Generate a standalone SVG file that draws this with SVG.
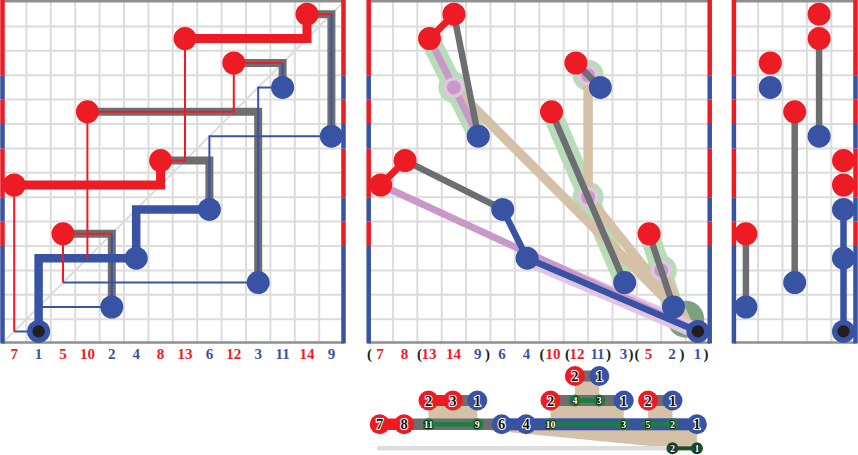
<svg xmlns="http://www.w3.org/2000/svg" width="858" height="455" viewBox="0 0 858 455">
<style>
.grid{stroke:#dcdcdc;stroke-width:2;fill:none}
.frame{stroke:#8f8f8f;stroke-width:2.5;fill:none}
.rb{stroke:#ed1c24;stroke-width:4.5;fill:none}
.bb{stroke:#3953a4;stroke-width:4.5;fill:none}
.gT{stroke:#6d6e71;stroke-width:8;fill:none}
.rT{stroke:#ed1c24;stroke-width:9;fill:none}
.bT{stroke:#3953a4;stroke-width:8.5;fill:none}
.rt{stroke:#ed1c24;stroke-width:2;fill:none}
.bt{stroke:#3953a4;stroke-width:2;fill:none}
.gm{stroke:#6d6e71;stroke-width:6.5;fill:none}
.rm{stroke:#ed1c24;stroke-width:7;fill:none}
.bm{stroke:#3953a4;stroke-width:6.5;fill:none}
.pk{stroke:#c899c8;stroke-width:7;fill:none;stroke-linecap:round}
.lpk{stroke:#e2c5e2;stroke-width:16;fill:none;stroke-linecap:round}
.hal{stroke:#b7dcb7;stroke-width:20;fill:none;stroke-linecap:round}
.tan{stroke:#d5c1a7;stroke-width:9.5;fill:none;stroke-linecap:round}
.r{fill:#ed1c24}
.b{fill:#3953a4}
.dot{fill:#231f20}
.pn1{fill:#e2c5e2}
.pn2{fill:#c899c8}
.hc{fill:#b7dcb7}
.lab{font-family:"Liberation Serif","Times New Roman",serif;font-weight:bold;font-size:15px;text-anchor:middle}
.lr{fill:#ed1c24}
.lb{fill:#3953a4}
.lp{fill:#231f20}
.tb{fill:#d5c1a7}
.gbar{fill:#6d6e71}
.rbar{fill:#ed1c24}
.bbar{fill:#3953a4}
.gl{stroke:#1a7f3c;stroke-width:4.5;fill:none}
.sg{fill:#1a7f3c}
.dg{fill:#1b4d2b}
.tn{font-family:"Liberation Serif","Times New Roman",serif;font-weight:bold;font-size:14.5px;text-anchor:middle;fill:#111;stroke:#fff;stroke-width:2;paint-order:stroke}
.ts{font-family:"Liberation Serif","Times New Roman",serif;font-weight:bold;font-size:10px;text-anchor:middle;fill:#fff;stroke:#111;stroke-width:1.6;paint-order:stroke}
</style>

<!-- grids -->
<g id="grids">
<path class="grid" d="M26.4,2V343.6M50.8,2V343.6M75.2,2V343.6M99.6,2V343.6M124,2V343.6M148.4,2V343.6M172.8,2V343.6M197.2,2V343.6M221.6,2V343.6M246,2V343.6M270.4,2V343.6M294.8,2V343.6M319.2,2V343.6
M2,26.4H343.6M2,50.8H343.6M2,75.2H343.6M2,99.6H343.6M2,124H343.6M2,148.4H343.6M2,172.8H343.6M2,197.2H343.6M2,221.6H343.6M2,246H343.6M2,270.4H343.6M2,294.8H343.6M2,319.2H343.6
M2,343.6L343.6,2"/>
<path class="grid" d="M392.9,2V343.6M417.3,2V343.6M441.7,2V343.6M466.1,2V343.6M490.5,2V343.6M514.9,2V343.6M539.3,2V343.6M563.7,2V343.6M588.1,2V343.6M612.5,2V343.6M636.9,2V343.6M661.3,2V343.6M685.7,2V343.6
M368.5,26.4H710.1M368.5,50.8H710.1M368.5,75.2H710.1M368.5,99.6H710.1M368.5,124H710.1M368.5,148.4H710.1M368.5,172.8H710.1M368.5,197.2H710.1M368.5,221.6H710.1M368.5,246H710.1M368.5,270.4H710.1M368.5,294.8H710.1M368.5,319.2H710.1"/>
<path class="grid" d="M758.1,2V343.6M782.5,2V343.6M806.9,2V343.6M831.3,2V343.6
M733.7,26.4H855.7M733.7,50.8H855.7M733.7,75.2H855.7M733.7,99.6H855.7M733.7,124H855.7M733.7,148.4H855.7M733.7,172.8H855.7M733.7,197.2H855.7M733.7,221.6H855.7M733.7,246H855.7M733.7,270.4H855.7M733.7,294.8H855.7M733.7,319.2H855.7"/>
<path class="frame" d="M2,1.3H343.6M2,342.4H343.6M368.5,1.3H710.1M368.5,342.4H710.1M733.7,1.3H855.7M733.7,342.4H855.7"/>
<path class="rb" d="M2.5,0V75.2M2.5,99.6V124M2.5,148.4V197.2M2.5,221.6V246M343.5,0V75.2M343.5,99.6V124M343.5,148.4V197.2M343.5,221.6V246M368.7,0V75.2M368.7,99.6V124M368.7,148.4V197.2M368.7,221.6V246M709.7,0V75.2M709.7,99.6V124M709.7,148.4V197.2M709.7,221.6V246M733.9,0V75.2M733.9,99.6V124M733.9,148.4V197.2M733.9,221.6V246M855.5,0V75.2M855.5,99.6V124M855.5,148.4V197.2M855.5,221.6V246"/>
<path class="bb" d="M2.5,75.2V99.6M2.5,124V148.4M2.5,197.2V221.6M2.5,246V343.6M343.5,75.2V99.6M343.5,124V148.4M343.5,197.2V221.6M343.5,246V343.6M368.7,75.2V99.6M368.7,124V148.4M368.7,197.2V221.6M368.7,246V343.6M709.7,75.2V99.6M709.7,124V148.4M709.7,197.2V221.6M709.7,246V343.6M733.9,75.2V99.6M733.9,124V148.4M733.9,197.2V221.6M733.9,246V343.6M855.5,75.2V99.6M855.5,124V148.4M855.5,197.2V221.6M855.5,246V343.6"/>
</g>

<!-- connectors -->
<g id="connectors">
<!-- left panel -->
<path class="gT" d="M307,14.2H331.4V136.2M233.8,63H282.6V87.4M87.4,111.8H258.2V282.6M160.6,160.6H209.4V209.4M63,233.8H111.8V307"/>
<path class="rT" d="M185,38.6H307V14.2M14.2,185H160.6V160.6"/>
<path class="bT" d="M38.6,331.4V258.2H136.2V209.4H209.4"/>
<path class="bt" d="M331.4,136.2V14.2M331.4,136.2H209.4V209.4M282.6,87.4V63M282.6,87.4H258.2V282.6M111.8,307V233.8M111.8,307H38.6M63,282.6H258.2M14.2,331.4H38.6"/>
<path class="rt" d="M307,14.2H331.4M185,38.6V160.6H160.6M233.8,63H282.6M233.8,63V111.8H87.4M87.4,111.8V258.2M14.2,185V331.4M63,233.8H111.8M63,233.8V282.6"/>
<!-- middle panel -->
<path class="hal" d="M429.5,38.6L478.3,136.2M575.9,63L600.3,87.4M551.5,111.8L624.7,282.6M649.1,233.8L673.5,307"/>
<circle class="hc" cx="453.9" cy="87.4" r="15.5"/>
<circle class="hc" cx="588.1" cy="75.2" r="15.5"/>
<circle class="hc" cx="588.1" cy="197.2" r="15.5"/>
<circle class="hc" cx="661.3" cy="270.4" r="15.5"/>
<circle cx="685.7" cy="319.2" r="18.5" fill="#7aa27c"/>
<path class="tan" d="M453.9,87.4L685.7,319.2M588.1,75.2V197.2L685.7,319.2M661.3,270.4L685.7,319.2"/>
<path class="lpk" d="M527.1,258.2L697.9,331.4"/>
<path class="pk" d="M429.5,38.6L478.3,136.2M380.7,185L697.9,331.4"/>
<circle class="pn1" cx="453.9" cy="87.4" r="10.5"/><circle class="pn2" cx="453.9" cy="87.4" r="7"/>
<circle class="pn1" cx="588.1" cy="75.2" r="10.5"/><circle class="pn2" cx="588.1" cy="75.2" r="7"/>
<circle class="pn1" cx="588.1" cy="197.2" r="10.5"/><circle class="pn2" cx="588.1" cy="197.2" r="7"/>
<circle class="pn1" cx="661.3" cy="270.4" r="10.5"/><circle class="pn2" cx="661.3" cy="270.4" r="7"/>
<path class="gm" d="M453.9,14.2L478.3,136.2M575.9,63L600.3,87.4M551.5,111.8L624.7,282.6M405.1,160.6L502.7,209.4M649.1,233.8L673.5,307"/>
<path class="rm" d="M429.5,38.6L453.9,14.2M380.7,185L405.1,160.6"/>
<path class="bm" d="M502.7,209.4L527.1,258.2L697.9,331.4"/>
<!-- right panel -->
<path class="gm" d="M745.9,233.8V307M794.7,111.8V282.6M819.1,38.6V136.2"/>
<path class="bm" d="M843.5,209.4V331.4"/>
</g>

<!-- left panel nodes -->
<g id="L7"><circle class="r" cx="14.2" cy="185" r="11.5"/></g>
<g id="L1"><circle class="b" cx="38.6" cy="331.4" r="11.5"/><circle class="dot" cx="38.6" cy="331.4" r="6.2"/></g>
<g id="L5"><circle class="r" cx="63" cy="233.8" r="11.5"/></g>
<g id="L10"><circle class="r" cx="87.4" cy="111.8" r="11.5"/></g>
<g id="L2"><circle class="b" cx="111.8" cy="307" r="11.5"/></g>
<g id="L4"><circle class="b" cx="136.2" cy="258.2" r="11.5"/></g>
<g id="L8"><circle class="r" cx="160.6" cy="160.6" r="11.5"/></g>
<g id="L13"><circle class="r" cx="185" cy="38.6" r="11.5"/></g>
<g id="L6"><circle class="b" cx="209.4" cy="209.4" r="11.5"/></g>
<g id="L12"><circle class="r" cx="233.8" cy="63" r="11.5"/></g>
<g id="L3"><circle class="b" cx="258.2" cy="282.6" r="11.5"/></g>
<g id="L11"><circle class="b" cx="282.6" cy="87.4" r="11.5"/></g>
<g id="L14"><circle class="r" cx="307" cy="14.2" r="11.5"/></g>
<g id="L9"><circle class="b" cx="331.4" cy="136.2" r="11.5"/></g>

<!-- middle panel nodes -->
<g id="M7"><circle class="r" cx="380.7" cy="185" r="11.5"/></g>
<g id="M8"><circle class="r" cx="405.1" cy="160.6" r="11.5"/></g>
<g id="M13"><circle class="r" cx="429.5" cy="38.6" r="11.5"/></g>
<g id="M14"><circle class="r" cx="453.9" cy="14.2" r="11.5"/></g>
<g id="M9"><circle class="b" cx="478.3" cy="136.2" r="11.5"/></g>
<g id="M6"><circle class="b" cx="502.7" cy="209.4" r="11.5"/></g>
<g id="M4"><circle class="b" cx="527.1" cy="258.2" r="11.5"/></g>
<g id="M10"><circle class="r" cx="551.5" cy="111.8" r="11.5"/></g>
<g id="M12"><circle class="r" cx="575.9" cy="63" r="11.5"/></g>
<g id="M11"><circle class="b" cx="600.3" cy="87.4" r="11.5"/></g>
<g id="M3"><circle class="b" cx="624.7" cy="282.6" r="11.5"/></g>
<g id="M5"><circle class="r" cx="649.1" cy="233.8" r="11.5"/></g>
<g id="M2"><circle class="b" cx="673.5" cy="307" r="11.5"/></g>
<g id="M1"><circle class="b" cx="697.9" cy="331.4" r="11.5"/><circle class="dot" cx="697.9" cy="331.4" r="6.2"/></g>

<!-- right panel nodes -->
<g id="R5"><circle class="r" cx="745.9" cy="233.8" r="11.5"/></g>
<g id="R2"><circle class="b" cx="745.9" cy="307" r="11.5"/></g>
<g id="R12"><circle class="r" cx="770.3" cy="63" r="11.5"/></g>
<g id="R11"><circle class="b" cx="770.3" cy="87.4" r="11.5"/></g>
<g id="R10"><circle class="r" cx="794.7" cy="111.8" r="11.5"/></g>
<g id="R3"><circle class="b" cx="794.7" cy="282.6" r="11.5"/></g>
<g id="R14"><circle class="r" cx="819.1" cy="14.2" r="11.5"/></g>
<g id="R13"><circle class="r" cx="819.1" cy="38.6" r="11.5"/></g>
<g id="R9"><circle class="b" cx="819.1" cy="136.2" r="11.5"/></g>
<g id="R8"><circle class="r" cx="843.5" cy="160.6" r="11.5"/></g>
<g id="R7"><circle class="r" cx="843.5" cy="185" r="11.5"/></g>
<g id="R6"><circle class="b" cx="843.5" cy="209.4" r="11.5"/></g>
<g id="R4"><circle class="b" cx="843.5" cy="258.2" r="11.5"/></g>
<g id="R1"><circle class="b" cx="843.5" cy="331.4" r="11.5"/><circle class="dot" cx="843.5" cy="331.4" r="6.2"/></g>

<!-- labels -->
<g id="labels-left" class="lab">
<text class="lr" x="14.2" y="359">7</text>
<text class="lb" x="38.6" y="359">1</text>
<text class="lr" x="63" y="359">5</text>
<text class="lr" x="87.4" y="359">10</text>
<text class="lb" x="111.8" y="359">2</text>
<text class="lb" x="136.2" y="359">4</text>
<text class="lr" x="160.6" y="359">8</text>
<text class="lr" x="185" y="359">13</text>
<text class="lb" x="209.4" y="359">6</text>
<text class="lr" x="233.8" y="359">12</text>
<text class="lb" x="258.2" y="359">3</text>
<text class="lb" x="282.6" y="359">11</text>
<text class="lr" x="307" y="359">14</text>
<text class="lb" x="331.4" y="359">9</text>
</g>
<g id="labels-mid" class="lab">
<text class="lp" x="369.5" y="359">(</text>
<text class="lr" x="380" y="359">7</text>
<text class="lr" x="404.5" y="359">8</text>
<text class="lp" x="419.5" y="359">(</text>
<text class="lr" x="429" y="359">13</text>
<text class="lr" x="453.5" y="359">14</text>
<text class="lb" x="477.8" y="359">9</text>
<text class="lp" x="487.5" y="359">)</text>
<text class="lb" x="502" y="359">6</text>
<text class="lb" x="526.5" y="359">4</text>
<text class="lp" x="542" y="359">(</text>
<text class="lr" x="553" y="359">10</text>
<text class="lp" x="567.5" y="359">(</text>
<text class="lr" x="577" y="359">12</text>
<text class="lb" x="597.5" y="359">11</text>
<text class="lp" x="608.5" y="359">)</text>
<text class="lb" x="623.5" y="359">3</text>
<text class="lp" x="631" y="359">)</text>
<text class="lp" x="637" y="359">(</text>
<text class="lr" x="648.5" y="359">5</text>
<text class="lb" x="672" y="359">2</text>
<text class="lp" x="682" y="359">)</text>
<text class="lb" x="697.5" y="359">1</text>
<text class="lp" x="706" y="359">)</text>
</g>

<!-- bottom tree -->
<g id="tree-connectors">
<rect class="tb" x="574.9" y="376" width="24.4" height="24.5"/>
<rect class="tb" x="428.5" y="400.5" width="48.8" height="23.8"/>
<rect class="tb" x="550.5" y="400.5" width="73.2" height="23.8"/>
<rect class="tb" x="648.1" y="400.5" width="24.4" height="23.8"/>
<polygon class="tb" points="428.5,424.3 696.9,424.3 696.9,448.3 672.5,448.3"/>
<rect class="gbar" x="574.9" y="370.5" width="24.4" height="11"/>
<rect class="rbar" x="428.5" y="395" width="24.4" height="11"/>
<rect class="gbar" x="452.9" y="395" width="24.4" height="11"/>
<rect class="gbar" x="550.5" y="395" width="73.2" height="11"/>
<rect class="gbar" x="648.1" y="395" width="24.4" height="11"/>
<rect class="rbar" x="379.7" y="418.5" width="24.4" height="11.5"/>
<rect class="gbar" x="404.1" y="418.5" width="97.6" height="11.5"/>
<rect class="bbar" x="501.7" y="418.3" width="195.2" height="12"/>
<path class="gl" d="M574.9,400.5H599.3M428.5,424.3H477.3M550.5,424.3H623.7M648.1,424.3H672.5"/>
<path d="M379,448.3H693" stroke="#dddddd" stroke-width="4.5" stroke-linecap="round" fill="none"/>
<path d="M672.5,448.3H696.9" stroke="#1b4d2b" stroke-width="4" fill="none"/>
</g>
<g id="T-A2"><circle class="r" cx="574.9" cy="376" r="10"/><text class="tn" x="574.9" y="381">2</text></g>
<g id="T-A1"><circle class="b" cx="599.3" cy="376" r="10"/><text class="tn" x="599.3" y="381">1</text></g>
<g id="T-BL2"><circle class="r" cx="428.5" cy="400.5" r="10"/><text class="tn" x="428.5" y="405.5">2</text></g>
<g id="T-BL3"><circle class="r" cx="452.9" cy="400.5" r="10"/><text class="tn" x="452.9" y="405.5">3</text></g>
<g id="T-BL1"><circle class="b" cx="477.3" cy="400.5" r="10"/><text class="tn" x="477.3" y="405.5">1</text></g>
<g id="T-BM2"><circle class="r" cx="550.5" cy="400.5" r="10"/><text class="tn" x="550.5" y="405.5">2</text></g>
<g id="T-BM4"><circle class="sg" cx="574.9" cy="400.5" r="6"/><text class="ts" x="574.9" y="404">4</text></g>
<g id="T-BM3"><circle class="sg" cx="599.3" cy="400.5" r="6"/><text class="ts" x="599.3" y="404">3</text></g>
<g id="T-BM1"><circle class="b" cx="623.7" cy="400.5" r="10"/><text class="tn" x="623.7" y="405.5">1</text></g>
<g id="T-BR2"><circle class="r" cx="648.1" cy="400.5" r="10"/><text class="tn" x="648.1" y="405.5">2</text></g>
<g id="T-BR1"><circle class="b" cx="672.5" cy="400.5" r="10"/><text class="tn" x="672.5" y="405.5">1</text></g>
<g id="T-C7"><circle class="r" cx="379.7" cy="424.3" r="10"/><text class="tn" x="379.7" y="429.3">7</text></g>
<g id="T-C8"><circle class="r" cx="404.1" cy="424.3" r="10"/><text class="tn" x="404.1" y="429.3">8</text></g>
<g id="T-C11"><circle class="sg" cx="428.5" cy="424.3" r="6"/><text class="ts" x="428.5" y="427.8">11</text></g>
<g id="T-C9"><circle class="sg" cx="477.3" cy="424.3" r="6"/><text class="ts" x="477.3" y="427.8">9</text></g>
<g id="T-C6"><circle class="b" cx="501.7" cy="424.3" r="10"/><text class="tn" x="501.7" y="429.3">6</text></g>
<g id="T-C4"><circle class="b" cx="526.1" cy="424.3" r="10"/><text class="tn" x="526.1" y="429.3">4</text></g>
<g id="T-C10"><circle class="sg" cx="550.5" cy="424.3" r="6"/><text class="ts" x="550.5" y="427.8">10</text></g>
<g id="T-C3"><circle class="sg" cx="623.7" cy="424.3" r="6"/><text class="ts" x="623.7" y="427.8">3</text></g>
<g id="T-C5"><circle class="sg" cx="648.1" cy="424.3" r="6"/><text class="ts" x="648.1" y="427.8">5</text></g>
<g id="T-C2"><circle class="sg" cx="672.5" cy="424.3" r="6"/><text class="ts" x="672.5" y="427.8">2</text></g>
<g id="T-C1"><circle class="b" cx="696.9" cy="424.3" r="10"/><text class="tn" x="696.9" y="429.3">1</text></g>
<g id="T-D2"><circle class="dg" cx="672.5" cy="448.3" r="6"/><text class="ts" x="672.5" y="451.8">2</text></g>
<g id="T-D1"><circle class="dg" cx="696.9" cy="448.3" r="6"/><text class="ts" x="696.9" y="451.8">1</text></g>
</svg>
